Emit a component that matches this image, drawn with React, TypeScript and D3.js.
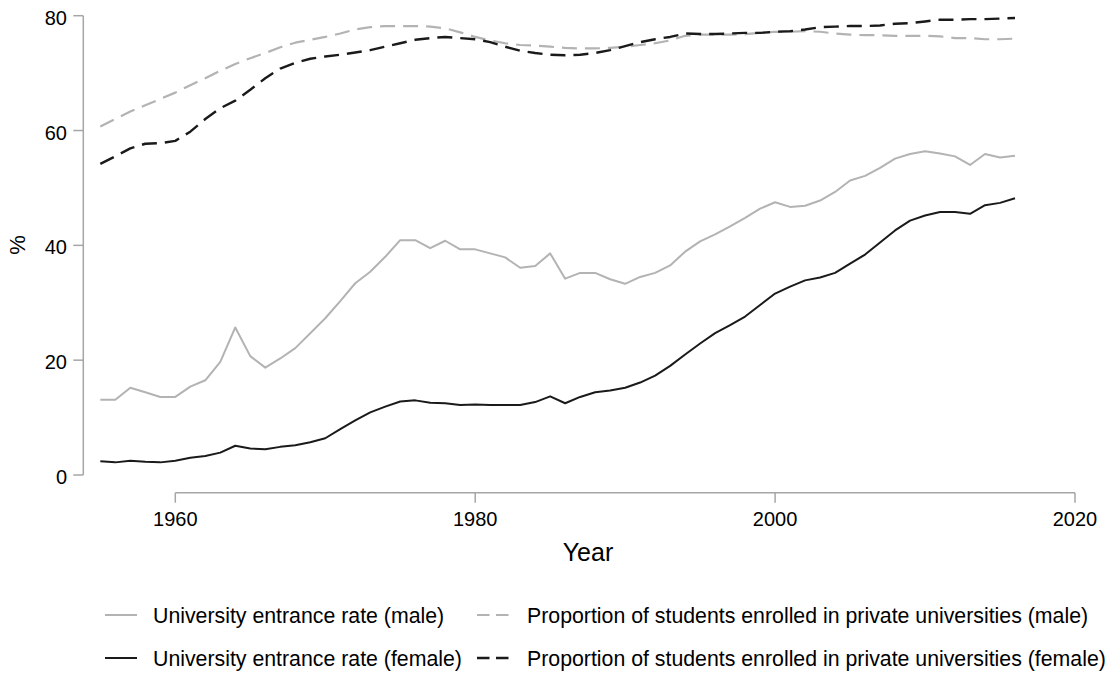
import React from "react";
import * as d3 from "d3";

const years = [
  1955, 1956, 1957, 1958, 1959, 1960, 1961, 1962, 1963, 1964,
  1965, 1966, 1967, 1968, 1969, 1970, 1971, 1972, 1973, 1974,
  1975, 1976, 1977, 1978, 1979, 1980, 1981, 1982, 1983, 1984,
  1985, 1986, 1987, 1988, 1989, 1990, 1991, 1992, 1993, 1994,
  1995, 1996, 1997, 1998, 1999, 2000, 2001, 2002, 2003, 2004,
  2005, 2006, 2007, 2008, 2009, 2010, 2011, 2012, 2013, 2014,
  2015, 2016,
];

const entranceMale = [
  13.1, 13.1, 15.2, 14.4, 13.6, 13.6, 15.4, 16.5, 19.7, 25.7,
  20.7, 18.7, 20.3, 22.1, 24.7, 27.3, 30.3, 33.4, 35.4, 38.0,
  40.9, 40.9, 39.5, 40.8, 39.3, 39.3, 38.6, 37.9, 36.1, 36.4,
  38.6, 34.2, 35.2, 35.2, 34.1, 33.3, 34.5, 35.2, 36.5, 38.9,
  40.7, 41.9, 43.3, 44.8, 46.4, 47.5, 46.7, 46.9, 47.8, 49.3,
  51.3, 52.1, 53.5, 55.1, 55.9, 56.4, 56.0, 55.5, 54.0, 55.9,
  55.3, 55.6,
];

const entranceFemale = [
  2.4, 2.2, 2.5, 2.3, 2.2, 2.5, 3.0, 3.3, 3.9, 5.1,
  4.6, 4.5, 4.9, 5.2, 5.7, 6.4, 8.0, 9.5, 10.9, 11.9,
  12.8, 13.0, 12.6, 12.5, 12.2, 12.3, 12.2, 12.2, 12.2, 12.7,
  13.7, 12.5, 13.6, 14.4, 14.7, 15.2, 16.1, 17.3, 19.0, 21.0,
  22.9, 24.7, 26.1, 27.6, 29.6, 31.6, 32.8, 33.9, 34.4, 35.2,
  36.8, 38.4, 40.5, 42.6, 44.3, 45.2, 45.8, 45.8, 45.5, 47.0,
  47.4, 48.2,
];

const privateMale = [
  60.7, 62.0, 63.3, 64.4, 65.5, 66.6, 67.9, 69.1, 70.4, 71.6,
  72.6, 73.5, 74.5, 75.3, 75.8, 76.3, 76.9, 77.6, 78.0, 78.2,
  78.2, 78.2, 78.1, 77.8, 77.1, 76.3, 75.7, 75.2, 74.9, 74.8,
  74.6, 74.4, 74.3, 74.3, 74.4, 74.6, 74.9, 75.2, 75.7, 76.5,
  76.7, 76.7, 76.7, 76.8, 77.0, 77.2, 77.2, 77.3, 77.2, 76.9,
  76.7, 76.6, 76.6, 76.5, 76.5, 76.5, 76.4, 76.1, 76.1, 75.9,
  75.9, 76.0,
];

const privateFemale = [
  54.2, 55.5, 56.9, 57.7, 57.8, 58.2, 59.8, 62.0, 63.9, 65.2,
  67.1, 69.1, 70.8, 71.8, 72.5, 72.9, 73.2, 73.6, 74.0, 74.6,
  75.2, 75.8, 76.1, 76.3, 76.1, 75.9, 75.4, 74.6, 73.9, 73.5,
  73.2, 73.1, 73.2, 73.5, 74.0, 74.7, 75.4, 75.9, 76.3, 76.9,
  76.8, 76.8, 76.9, 77.0, 77.0, 77.2, 77.3, 77.6, 78.0, 78.1,
  78.2, 78.2, 78.3, 78.6, 78.7, 79.0, 79.3, 79.3, 79.4, 79.4,
  79.5, 79.6,
];

const xTicks = [1960, 1980, 2000, 2020];
const yTicks = [0, 20, 40, 60, 80];

const series = [
  { label: "University entrance rate (male)", values: entranceMale, color: "#b3b3b3", dash: null, width: 2 },
  { label: "University entrance rate (female)", values: entranceFemale, color: "#1a1a1a", dash: null, width: 2 },
  { label: "Proportion of students enrolled in private universities (male)", values: privateMale, color: "#b3b3b3", dash: "15 8", width: 2.2 },
  { label: "Proportion of students enrolled in private universities (female)", values: privateFemale, color: "#1a1a1a", dash: "15 8", width: 2.4 },
];

const FONT = "'Liberation Sans', Arial, Helvetica, sans-serif";
const AXIS = "#a6a6a6";

export default function App() {
  const width = 1108;
  const height = 675;

  const x = d3.scaleLinear().domain([1960, 2020]).range([175.3, 1075]);
  const y = d3.scaleLinear().domain([0, 80]).range([475, 15.7]);
  const axisX = 83.3;
  const axisY = 492.7;

  const line = d3
    .line<[number, number]>()
    .x((d) => x(d[0]))
    .y((d) => y(d[1]));

  // legend: two columns, two rows (male row, female row)
  const legendRows = [615, 658];
  const legendCols = [{ x0: 105, x1: 137, tx: 153 }, { x0: 477, x1: 512, tx: 527 }];
  const legendItems = [
    { s: series[0], col: 0, row: 0 },
    { s: series[2], col: 1, row: 0 },
    { s: series[1], col: 0, row: 1 },
    { s: series[3], col: 1, row: 1 },
  ];

  return (
    <svg
      width={width}
      height={height}
      style={{ position: "absolute", left: 0, top: 0, background: "#fff" }}
      fontFamily={FONT}
    >
      {/* y axis */}
      <line x1={axisX} x2={axisX} y1={y(80)} y2={y(0)} stroke={AXIS} strokeWidth={1.5} />
      {yTicks.map((t) => (
        <g key={t}>
          <line x1={axisX - 10} x2={axisX} y1={y(t)} y2={y(t)} stroke={AXIS} strokeWidth={1.5} />
          <text x={67} y={y(t)} dy="0.45em" textAnchor="end" fontSize={20} fill="#000">
            {t}
          </text>
        </g>
      ))}
      <text
        transform={`translate(25,245) rotate(-90)`}
        textAnchor="middle"
        fontSize={22}
        fill="#000"
      >
        %
      </text>

      {/* x axis */}
      <line x1={x(1960)} x2={x(2020)} y1={axisY} y2={axisY} stroke={AXIS} strokeWidth={1.5} />
      {xTicks.map((t) => (
        <g key={t}>
          <line x1={x(t)} x2={x(t)} y1={axisY} y2={axisY + 10} stroke={AXIS} strokeWidth={1.5} />
          <text x={x(t)} y={525.7} textAnchor="middle" fontSize={20} fill="#000">
            {t}
          </text>
        </g>
      ))}
      <text x={588} y={561} textAnchor="middle" fontSize={25} fill="#000">
        Year
      </text>

      {/* lines */}
      {series.map((s) => (
        <path
          key={s.label}
          d={line(years.map((yr, i) => [yr, s.values[i]] as [number, number])) || ""}
          fill="none"
          stroke={s.color}
          strokeWidth={s.width}
          strokeDasharray={s.dash || undefined}
          strokeLinejoin="round"
        />
      ))}

      {/* legend */}
      {legendItems.map(({ s, col, row }) => {
        const c = legendCols[col];
        const ly = legendRows[row];
        return (
          <g key={s.label}>
            <line
              x1={c.x0}
              x2={c.x1}
              y1={ly}
              y2={ly}
              stroke={s.color}
              strokeWidth={s.width}
              strokeDasharray={s.dash ? "12.5 6.5" : undefined}
            />
            <text x={c.tx} y={ly} dy="0.36em" fontSize={21.3} fill="#000">
              {s.label}
            </text>
          </g>
        );
      })}
    </svg>
  );
}
